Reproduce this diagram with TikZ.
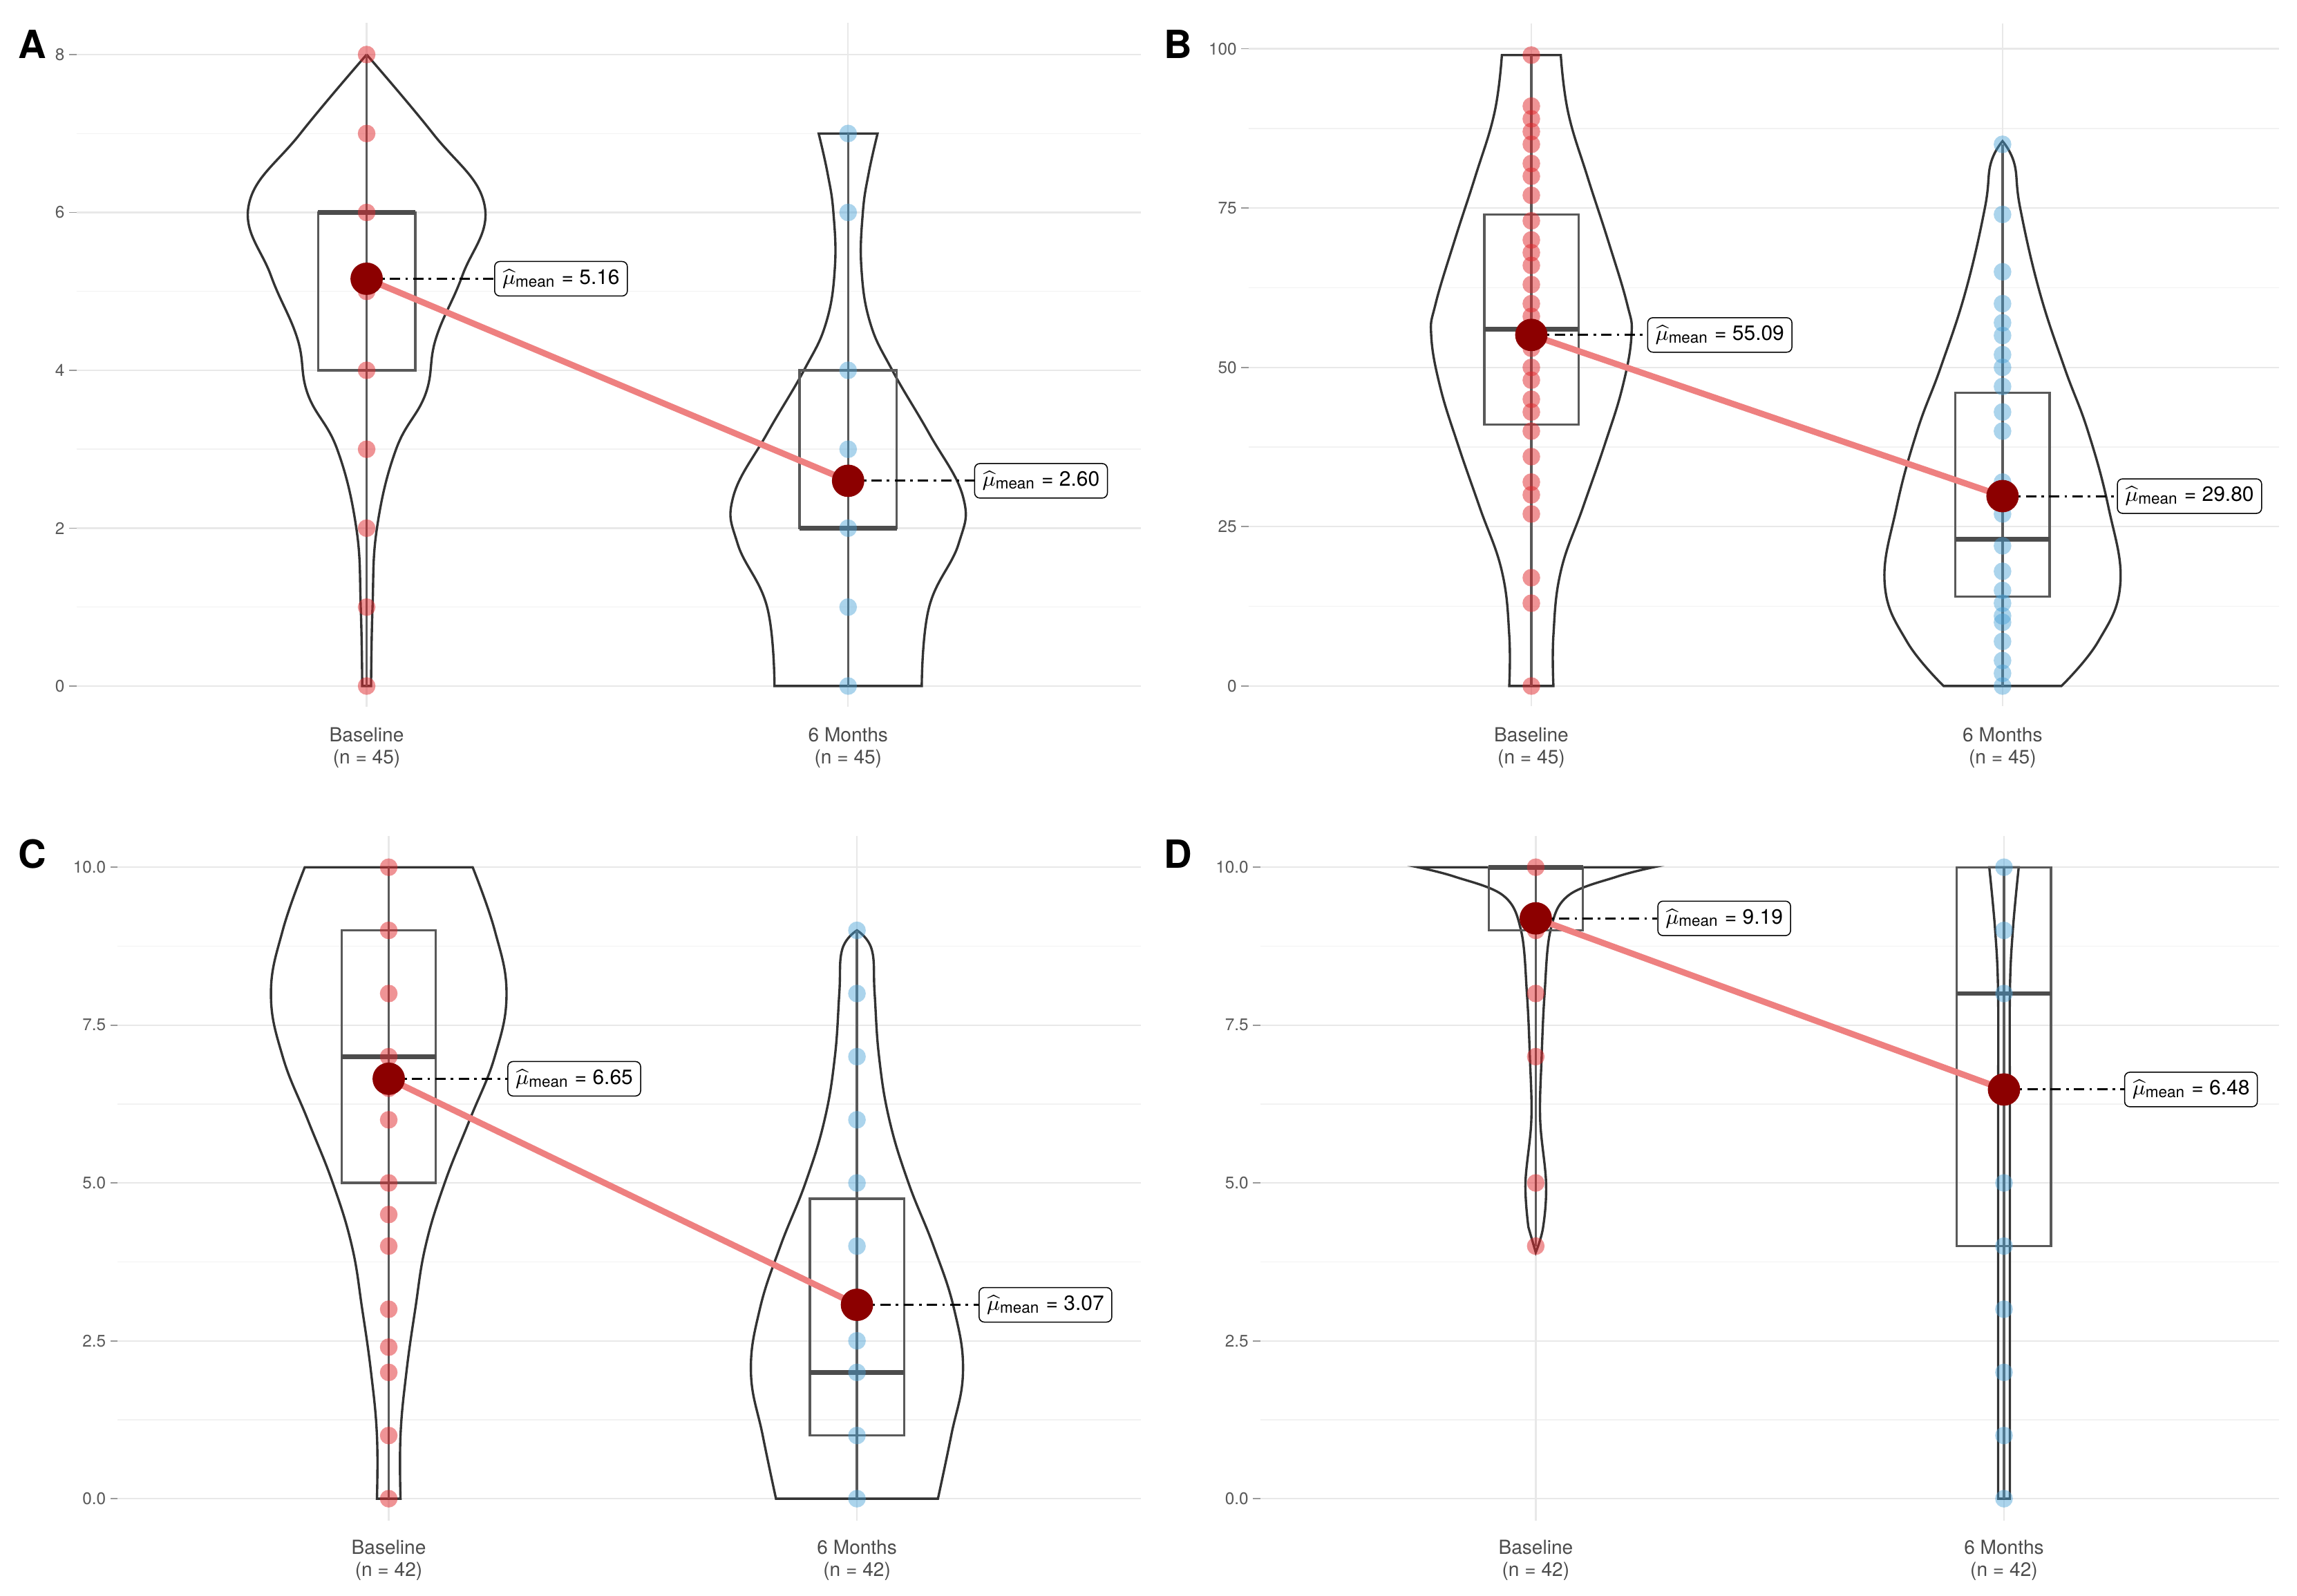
\documentclass[tikz,border=0pt]{standalone}
\usepackage{fontspec}
\setmainfont{TeX Gyre Heros}
\usepackage{amsmath}
\definecolor{mline}{RGB}{238,128,128}
\definecolor{bluept}{RGB}{70,160,215}
\definecolor{redpt}{RGB}{225,40,45}
\begin{document}
\begin{tikzpicture}[x=0.02cm,y=-0.02cm,
 major/.style={draw=black!9,line width=0.6pt},
 minor/.style={draw=black!5,line width=0.4pt},
 tick/.style={draw=black!40,line width=0.5pt},
 tl/.style={anchor=east,font=\fontsize{6.5}{7}\selectfont,text=black!65,inner sep=1pt},
 cat/.style={font=\fontsize{7.5}{8.5}\selectfont,text=black!70,align=center},
 vio/.style={draw=black!80,line width=0.9pt,fill=none},
 whisk/.style={draw=black!65,line width=0.9pt},
 box/.style={draw=black!65,line width=0.9pt},
 med/.style={draw=black!70,line width=1.8pt},
 rp/.style={fill=redpt,fill opacity=0.5},
 bp/.style={fill=bluept,fill opacity=0.45},
 mp/.style={circle,fill=red!55!black,inner sep=0pt,minimum size=0.44cm},
 ml/.style={draw=mline,line width=2.4pt},
 dd/.style={draw=black,line width=0.8pt,dash pattern=on 4pt off 2pt on 1pt off 2pt},
 lab/.style={draw=black,rounded corners=2pt,fill=white,font=\fontsize{8}{9}\selectfont,inner sep=3pt},
 let/.style={font=\fontsize{15}{16}\selectfont\bfseries}]
\useasboundingbox (0,0) rectangle (1560,1084);
\fill[white] (0,0) rectangle (1560,1084);
\node[let] at (22,30) {A};
\node[let] at (800,30) {B};
\node[let] at (22,580) {C};
\node[let] at (800,580) {D};
% ===== Panel A =====
\begin{scope}[shift={(0,466)},y=1.0725cm]
\foreach \v in {1,3,5,7} \draw[minor] (52,\v)--(775,\v);
\foreach \v in {0,2,...,8} {\draw[major] (52,\v)--(775,\v); \draw[tick] (47,\v)--(52,\v); \node[tl] at (46,\v) {\v};}
\draw[major] (249,-0.26)--(249,8.4); \draw[major] (576,-0.26)--(576,8.4);
\begin{scope}[shift={(249,0)}]
\draw[vio] plot[smooth,tension=.7] coordinates {(0,8) (45,7) (80,6.1) (65,5.2) (47,4.4) (40,3.7) (20,3) (7,2) (4,1) (3,0)} -- plot[smooth,tension=.7] coordinates {(-3,0) (-4,1) (-7,2) (-20,3) (-40,3.7) (-47,4.4) (-65,5.2) (-80,6.1) (-45,7) (0,8)};
\draw[whisk] (0,0)--(0,8); \draw[box] (-33,4) rectangle (33,6); \draw[med] (-33,6)--(33,6);
\foreach \v in {8,7,6,5,4,3,2,1,0} \fill[rp] (0,\v) circle[radius=0.12cm];
\end{scope}
\begin{scope}[shift={(576,0)}]
\draw[vio] plot[smooth,tension=.7] coordinates {(20,7) (14,6.5) (10,6) (9,5.3) (15,4.6) (30,4) (55,3.2) (78,2.4) (75,1.8) (55,1) (50,0)} -- plot[smooth,tension=.7] coordinates {(-50,0) (-55,1) (-75,1.8) (-78,2.4) (-55,3.2) (-30,4) (-15,4.6) (-9,5.3) (-10,6) (-14,6.5) (-20,7)} -- cycle;
\draw[whisk] (0,0)--(0,7); \draw[box] (-33,2) rectangle (33,4); \draw[med] (-33,2)--(33,2);
\foreach \v in {7,6,4,3,2,1,0} \fill[bp] (0,\v) circle[radius=0.12cm];
\end{scope}
\coordinate (Am1) at (249,5.16); \coordinate (Am2) at (576,2.60);
\node[lab] (Al1) at (381,5.16) {$\widehat{\mu}_{\text{mean}}$ = 5.16};
\node[lab] (Al2) at (707,2.60) {$\widehat{\mu}_{\text{mean}}$ = 2.60};
\end{scope}
\draw[ml] (Am1)--(Am2);
\draw[dd] (Am1)--(Al1.west); \draw[dd] (Am2)--(Al2.west);
\node[mp] at (Am1) {}; \node[mp] at (Am2) {};
\node[cat] at (249,508) {Baseline\\(n = 45)};
\node[cat] at (576,508) {6 Months\\(n = 45)};
% ===== Panel B =====
\begin{scope}[shift={(0,466)},y=0.0866cm]
\foreach \v in {12.5,37.5,62.5,87.5} \draw[minor] (848,\v)--(1548,\v);
\foreach \v in {0,25,50,75,100} {\draw[major] (848,\v)--(1548,\v); \draw[tick] (843,\v)--(848,\v); \node[tl] at (842,\v) {\v};}
\draw[major] (1040,-3.2)--(1040,104); \draw[major] (1360,-3.2)--(1360,104);
\begin{scope}[shift={(1040,0)}]
\draw[vio] plot[smooth,tension=.7] coordinates {(20,99) (25,90) (38,80) (52,70) (65,60) (68,55) (62,47) (50,38) (35,28) (20,18) (15,8) (15,0)} -- plot[smooth,tension=.7] coordinates {(-15,0) (-15,8) (-20,18) (-35,28) (-50,38) (-62,47) (-68,55) (-65,60) (-52,70) (-38,80) (-25,90) (-20,99)} -- cycle;
\draw[whisk] (0,0)--(0,99); \draw[box] (-32,41) rectangle (32,74); \draw[med] (-32,56)--(32,56);
\foreach \v in {99,91,89,87,85,82,80,77,73,70,68,66,63,60,58,55,53,50,48,45,43,40,36,32,30,27,17,13,0} \fill[rp] (0,\v) circle[radius=0.12cm];
\end{scope}
\begin{scope}[shift={(1360,0)}]
\draw[vio] plot[smooth,tension=.7] coordinates {(0,85.5) (8,82) (12,75) (25,62) (42,50) (58,40) (72,28) (80,16) (65,7) (40,0)} -- plot[smooth,tension=.7] coordinates {(-40,0) (-65,7) (-80,16) (-72,28) (-58,40) (-42,50) (-25,62) (-12,75) (-8,82) (0,85.5)} -- cycle;
\draw[whisk] (0,0)--(0,85); \draw[box] (-32,14) rectangle (32,46); \draw[med] (-32,23)--(32,23);
\foreach \v in {85,74,65,60,57,55,52,50,47,43,40,32,27,22,18,15,13,11,10,7,4,2,0} \fill[bp] (0,\v) circle[radius=0.12cm];
\end{scope}
\coordinate (Bm1) at (1040,55.09); \coordinate (Bm2) at (1360,29.80);
\node[lab] (Bl1) at (1168,55.09) {$\widehat{\mu}_{\text{mean}}$ = 55.09};
\node[lab] (Bl2) at (1487,29.80) {$\widehat{\mu}_{\text{mean}}$ = 29.80};
\end{scope}
\draw[ml] (Bm1)--(Bm2);
\draw[dd] (Bm1)--(Bl1.west); \draw[dd] (Bm2)--(Bl2.west);
\node[mp] at (Bm1) {}; \node[mp] at (Bm2) {};
\node[cat] at (1040,508) {Baseline\\(n = 45)};
\node[cat] at (1360,508) {6 Months\\(n = 45)};
% ===== Panel C =====
\begin{scope}[shift={(0,1018)},y=0.858cm]
\foreach \v in {1.25,3.75,6.25,8.75} \draw[minor] (80,\v)--(775,\v);
\foreach \v/\t in {0/0.0,2.5/2.5,5/5.0,7.5/7.5,10/10.0} {\draw[major] (80,\v)--(775,\v); \draw[tick] (75,\v)--(80,\v); \node[tl] at (74,\v) {\t};}
\draw[major] (264,-0.35)--(264,10.5); \draw[major] (582,-0.35)--(582,10.5);
\begin{scope}[shift={(264,0)}]
\draw[vio] plot[smooth,tension=.7] coordinates {(57,10) (72,9) (80,8) (72,7) (55,6) (38,5) (25,4) (18,3) (12,2) (8,1) (8,0)} -- plot[smooth,tension=.7] coordinates {(-8,0) (-8,1) (-12,2) (-18,3) (-25,4) (-38,5) (-55,6) (-72,7) (-80,8) (-72,9) (-57,10)} -- cycle;
\draw[whisk] (0,0)--(0,10); \draw[box] (-32,5) rectangle (32,9); \draw[med] (-32,7)--(32,7);
\foreach \v in {10,9,8,7,6.5,6,5,4.5,4,3,2.4,2,1,0} \fill[rp] (0,\v) circle[radius=0.12cm];
\end{scope}
\begin{scope}[shift={(582,0)}]
\draw[vio] plot[smooth,tension=.7] coordinates {(0,9) (10,8.7) (12,8) (15,7) (22,6) (35,5) (52,4) (66,3) (72,2) (64,1) (55,0)} -- plot[smooth,tension=.7] coordinates {(-55,0) (-64,1) (-72,2) (-66,3) (-52,4) (-35,5) (-22,6) (-15,7) (-12,8) (-10,8.7) (0,9)} -- cycle;
\draw[whisk] (0,0)--(0,9); \draw[box] (-32,1) rectangle (32,4.75); \draw[med] (-32,2)--(32,2);
\foreach \v in {9,8,7,6,5,4,2.5,2,1,0} \fill[bp] (0,\v) circle[radius=0.12cm];
\end{scope}
\coordinate (Cm1) at (264,6.65); \coordinate (Cm2) at (582,3.07);
\node[lab] (Cl1) at (390,6.65) {$\widehat{\mu}_{\text{mean}}$ = 6.65};
\node[lab] (Cl2) at (710,3.07) {$\widehat{\mu}_{\text{mean}}$ = 3.07};
\end{scope}
\draw[ml] (Cm1)--(Cm2);
\draw[dd] (Cm1)--(Cl1.west); \draw[dd] (Cm2)--(Cl2.west);
\node[mp] at (Cm1) {}; \node[mp] at (Cm2) {};
\node[cat] at (264,1060) {Baseline\\(n = 42)};
\node[cat] at (582,1060) {6 Months\\(n = 42)};
% ===== Panel D =====
\begin{scope}[shift={(0,1018)},y=0.858cm]
\foreach \v in {1.25,3.75,6.25,8.75} \draw[minor] (856,\v)--(1548,\v);
\foreach \v/\t in {0/0.0,2.5/2.5,5/5.0,7.5/7.5,10/10.0} {\draw[major] (856,\v)--(1548,\v); \draw[tick] (851,\v)--(856,\v); \node[tl] at (850,\v) {\t};}
\draw[major] (1043,-0.35)--(1043,10.5); \draw[major] (1361,-0.35)--(1361,10.5);
\begin{scope}[shift={(1043,0)}]
\draw[vio] plot[smooth,tension=.6] coordinates {(80,10) (55,9.85) (22,9.55) (10,9) (6,8) (4,7) (3,6) (7,5) (5,4.3) (0,3.9)} -- plot[smooth,tension=.6] coordinates {(-5,4.3) (-7,5) (-3,6) (-4,7) (-6,8) (-10,9) (-22,9.55) (-55,9.85) (-80,10)} -- cycle;
\draw[whisk] (0,4)--(0,10); \draw[box] (-32,9) rectangle (32,10); \draw[med] (-32,10)--(32,10);
\foreach \v in {10,9,8,7,5,4} \fill[rp] (0,\v) circle[radius=0.12cm];
\end{scope}
\begin{scope}[shift={(1361,0)}]
\draw[vio] plot[smooth,tension=.6] coordinates {(10,10) (6,9) (4,8) (4,6) (4,4) (4,2) (4,0)} -- plot[smooth,tension=.6] coordinates {(-4,0) (-4,2) (-4,4) (-4,6) (-4,8) (-6,9) (-10,10)} -- cycle;
\draw[whisk] (0,0)--(0,10); \draw[box] (-32,4) rectangle (32,10); \draw[med] (-32,8)--(32,8);
\foreach \v in {10,9,8,5,4,3,2,1,0} \fill[bp] (0,\v) circle[radius=0.12cm];
\end{scope}
\coordinate (Dm1) at (1043,9.19); \coordinate (Dm2) at (1361,6.48);
\node[lab] (Dl1) at (1171,9.19) {$\widehat{\mu}_{\text{mean}}$ = 9.19};
\node[lab] (Dl2) at (1488,6.48) {$\widehat{\mu}_{\text{mean}}$ = 6.48};
\end{scope}
\draw[ml] (Dm1)--(Dm2);
\draw[dd] (Dm1)--(Dl1.west); \draw[dd] (Dm2)--(Dl2.west);
\node[mp] at (Dm1) {}; \node[mp] at (Dm2) {};
\node[cat] at (1043,1060) {Baseline\\(n = 42)};
\node[cat] at (1361,1060) {6 Months\\(n = 42)};
\end{tikzpicture}
\end{document}
